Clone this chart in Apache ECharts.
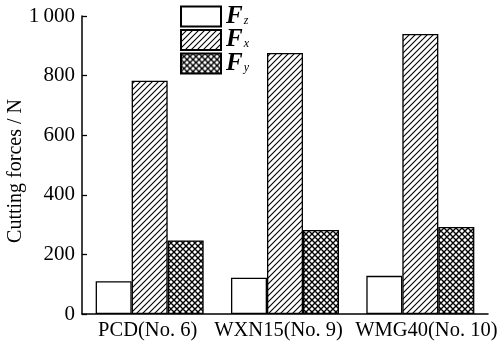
<!DOCTYPE html>
<html>
<head>
<meta charset="utf-8">
<script src="https://cdn.jsdelivr.net/npm/echarts@6/dist/echarts.min.js"></script>
<style>html,body{margin:0;padding:0;background:#fff}#c{width:500px;height:349px}</style>
</head>
<body>
<div id="c"></div>
<script>
const categories = ['PCD(No. 6)', 'WXN15(No. 9)', 'WMG40(No. 10)'];
const seriesNames = ['Fz', 'Fx', 'Fy'];
const fzValues = [110, 122, 128];
const fxValues = [783, 876, 940];
const fyValues = [247, 282, 292];
const yTicks = [0, 200, 400, 600, 800, 1000];
const yTickLabels = ['0', '200', '400', '600', '800', '1\u2009000'];

function makePattern(cross) {
  const s = 6;
  const c = document.createElement('canvas');
  c.width = s; c.height = s;
  const g = c.getContext('2d');
  g.fillStyle = '#fff';
  g.fillRect(0, 0, s, s);
  g.strokeStyle = '#000';
  g.lineWidth = cross ? 1.4 : 1.1;
  g.beginPath();
  g.moveTo(-1, s + 1); g.lineTo(s + 1, -1);
  g.moveTo(-2, 2); g.lineTo(2, -2);
  g.moveTo(s - 2, s + 2); g.lineTo(s + 2, s - 2);
  if (cross) {
    g.moveTo(-1, -1); g.lineTo(s + 1, s + 1);
    g.moveTo(-2, s - 2); g.lineTo(2, s + 2);
    g.moveTo(s - 2, -2); g.lineTo(s + 2, 2);
  }
  g.stroke();
  return c;
}

const fills = ['#ffffff', { image: makePattern(false), repeat: 'repeat' }, { image: makePattern(true), repeat: 'repeat' }];
const dataSets = [fzValues, fxValues, fyValues];
const FONT = 'Liberation Serif';
const labelStyles = ['c0', 'c1', 'c2'];

const chart = echarts.init(document.getElementById('c'), null, { renderer: 'canvas' });
chart.setOption({
  animation: false,
  backgroundColor: '#fff',
  grid: { left: 82, right: 12, top: 16, bottom: 35, containLabel: false, outerBoundsMode: 'none' },
  legend: {
    orient: 'vertical',
    left: 180,
    top: 4,
    padding: 0,
    itemWidth: 40,
    itemHeight: 20,
    itemGap: -1.5,
    icon: 'rect',
    selectedMode: false,
    data: seriesNames,
    formatter: function (n) { return '{f|F}{s|' + n.slice(1) + '}'; },
    textStyle: {
      rich: {
        f: { fontFamily: FONT, fontStyle: 'italic', fontWeight: 'bold', fontSize: 25, lineHeight: 20, color: '#000' },
        s: { fontFamily: FONT, fontStyle: 'italic', fontSize: 12, lineHeight: 12, color: '#000', verticalAlign: 'bottom', padding: [0, 0, 0, 1] }
      }
    }
  },
  xAxis: {
    type: 'category',
    data: categories,
    axisTick: { show: false },
    axisLine: { lineStyle: { color: '#000', width: 1.5 } },
    axisLabel: {
      color: '#000', fontFamily: FONT, fontSize: 20.5, margin: 6, interval: 0, hideOverlap: false,
      formatter: function (v, i) { return '{' + labelStyles[i] + '|' + v + '}'; },
      rich: {
        c0: { fontFamily: FONT, fontSize: 20.5, color: '#000', padding: [0, 4, 0, 0] },
        c1: { fontFamily: FONT, fontSize: 20.5, color: '#000', padding: [0, 13, 0, 0] },
        c2: { fontFamily: FONT, fontSize: 20.5, color: '#000', padding: [0, 0, 0, 12] }
      }
    }
  },
  yAxis: {
    type: 'value',
    min: 0, max: 1000, interval: 200,
    name: 'Cutting forces / N',
    nameLocation: 'middle',
    nameGap: 56,
    nameMoveOverlap: false,
    nameTextStyle: { color: '#000', fontFamily: FONT, fontSize: 20, padding: [0, 12, 0, 0] },
    axisLine: { show: true, lineStyle: { color: '#000', width: 1.5 } },
    axisTick: { show: true, inside: true, length: 5, lineStyle: { color: '#000', width: 1.3 } },
    splitLine: { show: false },
    axisLabel: {
      color: '#000', fontFamily: FONT, fontSize: 21, margin: 7,
      formatter: function (v) { const i = yTicks.indexOf(v); return i >= 0 ? yTickLabels[i] : ''; }
    }
  },
  series: seriesNames.map(function (n, i) {
    return {
      name: n,
      type: 'bar',
      data: dataSets[i],
      barWidth: 36,
      barGap: '0%',
      itemStyle: { color: fills[i], borderColor: '#000', borderWidth: 1.3 }
    };
  })
});
</script>
</body>
</html>
